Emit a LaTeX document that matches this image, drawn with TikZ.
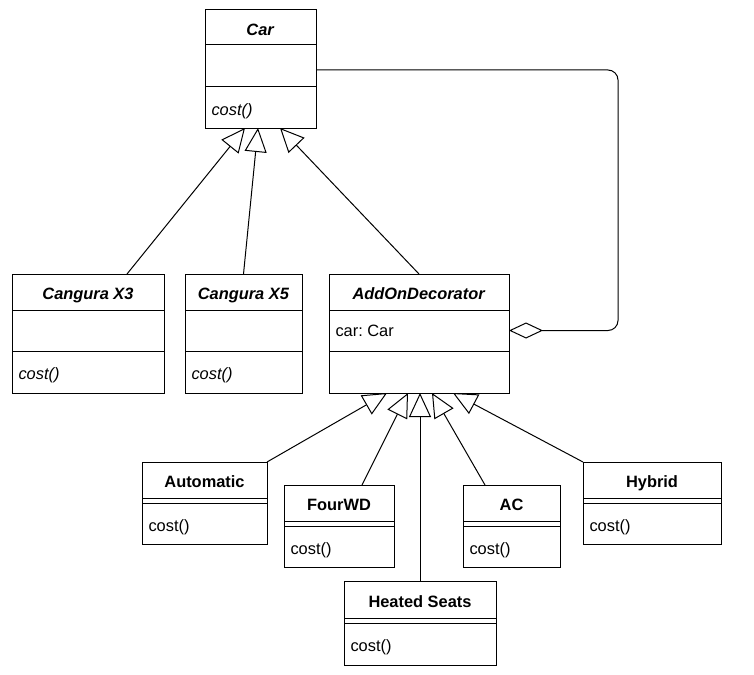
\documentclass[tikz,border=0pt]{standalone}
\usepackage{fontspec}
\setmainfont{Liberation Sans}
\usetikzlibrary{positioning, arrows.meta}

\begin{document}
\begin{tikzpicture}[x=1pt, y=-1pt, line width=1pt, font=\fontsize{16.4}{19}\selectfont]
	\tikzstyle{part}=[draw, rectangle, inner sep=0pt, outer sep=0pt]
	\tikzstyle{head}=[part, text height=15.7pt, text depth=0pt]
	\tikzstyle{member}=[inner sep=0pt, outer sep=0pt]
	\tikzstyle{op}=[member, yshift=-3.5pt]
	\tikzstyle{inherit}=[-{Triangle[open, length=24pt, width=22pt]}]
	\tikzstyle{aggr}=[rounded corners=10pt, -{Diamond[open, length=34pt, width=16pt]}]
	\useasboundingbox (0,0) rectangle (754,674);
	% abstract classes
	\node[head, minimum width=111pt, minimum height=35pt, anchor=north](carT) at (260.5,10) {\textbf{\textit{Car}}};
	\node[part, minimum width=111pt, minimum height=42pt, below=0pt of carT](carA) {};
	\node[part, minimum width=111pt, minimum height=41pt, below=0pt of carA](carM) {};
	\node[op, right=6.5pt of carM.west](carMt) {\textit{cost()}};

	\node[head, minimum width=152pt, minimum height=36pt, anchor=north](x3T) at (88,274) {\textbf{\textit{Cangura X3}}};
	\node[part, minimum width=152pt, minimum height=41pt, below=0pt of x3T](x3A) {};
	\node[part, minimum width=152pt, minimum height=42pt, below=0pt of x3A](x3M) {};
	\node[op, right=6.5pt of x3M.west](x3Mt) {\textit{cost()}};

	\node[head, minimum width=117pt, minimum height=36pt, anchor=north](x5T) at (243.5,274) {\textbf{\textit{Cangura X5}}};
	\node[part, minimum width=117pt, minimum height=41pt, below=0pt of x5T](x5A) {};
	\node[part, minimum width=117pt, minimum height=42pt, below=0pt of x5A](x5M) {};
	\node[op, right=6.5pt of x5M.west](x5Mt) {\textit{cost()}};

	\node[head, minimum width=180pt, minimum height=36pt, anchor=north](decT) at (419,274) {\textbf{\textit{AddOnDecorator}}};
	\node[part, minimum width=180pt, minimum height=41pt, below=0pt of decT](decA) {};
	\node[part, minimum width=180pt, minimum height=42pt, below=0pt of decA](decM) {};
	\node[member, right=6.5pt of decA.west](decAt) {car:\ Car};

	% add-ons
	\node[head, minimum width=125pt, minimum height=36pt, anchor=north](autoT) at (204.5,462) {\textbf{Automatic}};
	\node[part, minimum width=125pt, minimum height=5pt, below=0pt of autoT](autoG) {};
	\node[part, minimum width=125pt, minimum height=41pt, below=0pt of autoG](autoM) {};
	\node[op, right=6.5pt of autoM.west](autoMt) {cost()};

	\node[head, minimum width=110pt, minimum height=36pt, anchor=north](fourT) at (339,485) {\textbf{FourWD}};
	\node[part, minimum width=110pt, minimum height=5pt, below=0pt of fourT](fourG) {};
	\node[part, minimum width=110pt, minimum height=41pt, below=0pt of fourG](fourM) {};
	\node[op, right=6.5pt of fourM.west](fourMt) {cost()};

	\node[head, minimum width=152pt, minimum height=37pt, anchor=north](heatT) at (420,581) {\textbf{Heated Seats}};
	\node[part, minimum width=152pt, minimum height=5pt, below=0pt of heatT](heatG) {};
	\node[part, minimum width=152pt, minimum height=42pt, below=0pt of heatG](heatM) {};
	\node[op, right=6.5pt of heatM.west](heatMt) {cost()};

	\node[head, minimum width=97pt, minimum height=36pt, anchor=north](acT) at (511.5,485) {\textbf{AC}};
	\node[part, minimum width=97pt, minimum height=5pt, below=0pt of acT](acG) {};
	\node[part, minimum width=97pt, minimum height=41pt, below=0pt of acG](acM) {};
	\node[op, right=6.5pt of acM.west](acMt) {cost()};

	\node[head, minimum width=138pt, minimum height=36pt, anchor=north](hybT) at (652,462) {\textbf{Hybrid}};
	\node[part, minimum width=138pt, minimum height=5pt, below=0pt of hybT](hybG) {};
	\node[part, minimum width=138pt, minimum height=41pt, below=0pt of hybG](hybM) {};
	\node[op, right=6.5pt of hybM.west](hybMt) {cost()};

	% generalisation
	\draw[inherit] ([xshift=39pt]x3T.north) -- ([xshift=-15.5pt]carM.south);
	\draw[inherit] (x5T.north) -- ([xshift=-2.5pt]carM.south);
	\draw[inherit] (decT.north) -- ([xshift=19.5pt]carM.south);
	\draw[inherit] (autoT.north east) -- ([xshift=-32pt]decM.south);
	\draw[inherit] ([xshift=23pt]fourT.north) -- ([xshift=-11pt]decM.south);
	\draw[inherit] (heatT.north) -- (heatT.north |- decM.south);
	\draw[inherit] ([xshift=-26.5pt]acT.north) -- ([xshift=13pt]decM.south);
	\draw[inherit] (hybT.north west) -- ([xshift=34pt]decM.south);

	% aggregation
	\draw[aggr] ([yshift=-4pt]carA.east) -- ([xshift=302pt, yshift=-4pt]carA.east) |- (decA.east);
\end{tikzpicture}
\end{document}
